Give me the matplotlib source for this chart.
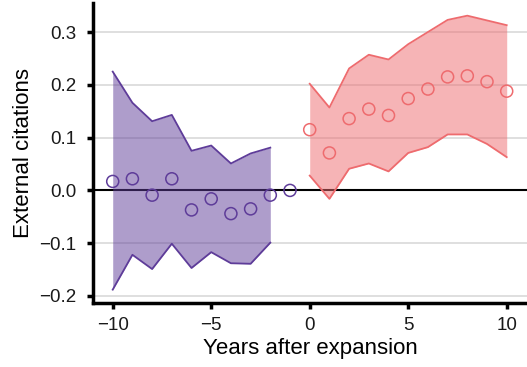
import numpy as np
import matplotlib
matplotlib.use("Agg")
import matplotlib.pyplot as plt

plt.rcParams['font.family'] = ['Liberation Sans', 'DejaVu Sans']

# Dane
lata_przed = [-10, -9, -8, -7, -6, -5, -4, -3, -2, -1]
punkty_przed = [0.017, 0.022, -0.009, 0.022, -0.037, -0.016, -0.044, -0.035, -0.009, 0.0]
pasmo_przed_x = [-10, -9, -8, -7, -6, -5, -4, -3, -2]
gora_przed = [0.225, 0.166, 0.131, 0.143, 0.075, 0.085, 0.051, 0.070, 0.081]
dol_przed = [-0.188, -0.122, -0.149, -0.101, -0.147, -0.117, -0.138, -0.139, -0.099]

lata_po = [0, 1, 2, 3, 4, 5, 6, 7, 8, 9, 10]
punkty_po = [0.115, 0.071, 0.136, 0.154, 0.142, 0.174, 0.192, 0.215, 0.217, 0.206, 0.188]
gora_po = [0.202, 0.157, 0.231, 0.257, 0.248, 0.277, 0.300, 0.323, 0.331, 0.322, 0.313]
dol_po = [0.028, -0.016, 0.041, 0.051, 0.036, 0.071, 0.082, 0.106, 0.106, 0.088, 0.063]

fiolet = '#5e3c99'
czerwony = '#ee6b6e'

fig = plt.figure(figsize=(5.27, 3.67), dpi=100)
ax = fig.add_axes([0.1765, 0.1744, 0.8235, 0.8174])

ax.set_xlim(-11.0, 11.03)
ax.set_ylim(-0.2133, 0.355)
ax.set_yticks([-0.2, -0.1, 0.0, 0.1, 0.2, 0.3])
ax.set_xticks([-10, -5, 0, 5, 10])
ax.set_yticklabels(['\u22120.2', '\u22120.1', '0.0', '0.1', '0.2', '0.3'])
ax.set_xticklabels(['\u221210', '\u22125', '0', '5', '10'])

ax.grid(axis='y', color='#d9d9d9', linewidth=1.2, zorder=0)
ax.set_axisbelow(True)
ax.axhline(0, color='black', linewidth=1.5, zorder=1)

# Pasma ufności
ax.fill_between(pasmo_przed_x, dol_przed, gora_przed, color=fiolet, alpha=0.5, linewidth=0, zorder=2)
ax.plot(pasmo_przed_x, gora_przed, color=fiolet, linewidth=1.3, zorder=3)
ax.plot(pasmo_przed_x, dol_przed, color=fiolet, linewidth=1.3, zorder=3)

ax.fill_between(lata_po, dol_po, gora_po, color=czerwony, alpha=0.5, linewidth=0, zorder=2)
ax.plot(lata_po, gora_po, color=czerwony, linewidth=1.3, zorder=3)
ax.plot(lata_po, dol_po, color=czerwony, linewidth=1.3, zorder=3)

# Punkty
ax.scatter(lata_przed, punkty_przed, s=75, facecolors='none', edgecolors=fiolet, linewidths=1.1, zorder=4)
ax.scatter(lata_po, punkty_po, s=75, facecolors='none', edgecolors=czerwony, linewidths=1.1, zorder=4)

for s in ['top', 'right']:
    ax.spines[s].set_visible(False)
for s in ['left', 'bottom']:
    ax.spines[s].set_linewidth(2.5)
    ax.spines[s].set_color('black')

ax.tick_params(axis='both', length=4, width=2.5, color='black', labelsize=13.5, labelcolor='#1a1a1a')
ax.tick_params(axis='y', pad=8)
ax.tick_params(axis='x', pad=6)
ax.set_xlabel('Years after expansion', fontsize=16, labelpad=3)
ax.set_ylabel('External citations', fontsize=16, labelpad=4)

fig.savefig('out.png', dpi=100)
